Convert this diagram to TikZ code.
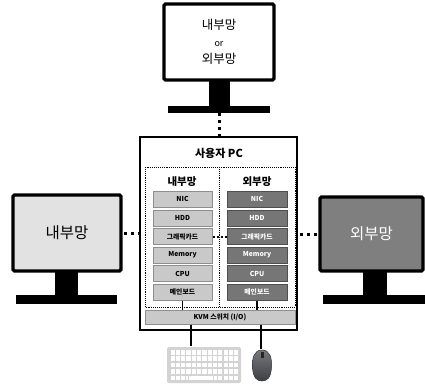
\documentclass[tikz,border=0pt]{standalone}
\usepackage{fontspec}
\setmainfont{Noto Sans CJK KR}
\setsansfont{Noto Sans CJK KR}
\usetikzlibrary{positioning}
\definecolor{lightpart}{HTML}{C9C9C9}
\definecolor{lightedge}{HTML}{8E8E8E}
\definecolor{darkpart}{HTML}{767676}
\definecolor{darkedge}{HTML}{4E4E4E}
\definecolor{lightscreen}{HTML}{E2E2E2}
\definecolor{darkscreen}{HTML}{7F7F7F}
\definecolor{kbbody}{HTML}{D3D3D3}
\definecolor{mousebody}{HTML}{3C3F44}
\tikzset{
  screenbox/.style={draw=black, line width=3.2pt, rounded corners=1.5pt, inner sep=0pt},
  standpart/.style={fill=black, draw=none},
  linkdots/.style={line width=3pt, dash pattern=on 3pt off 4pt},
  partlight/.style={draw=lightedge, fill=lightpart, line width=1pt, minimum width=59pt, minimum height=16pt, inner sep=0pt, font=\bfseries\fontsize{6.8}{7}\selectfont},
  partdark/.style={draw=darkedge, fill=darkpart, text=white, line width=1pt, minimum width=60pt, minimum height=16pt, inner sep=0pt, font=\bfseries\fontsize{6.8}{7}\selectfont},
  zone/.style={draw, densely dotted, line width=0.9pt},
  wire/.style={line width=1.2pt}
}
\begin{document}
\begin{tikzpicture}[x=1pt,y=-1pt]
\useasboundingbox (0,0) rectangle (425,386);

% top monitor
\node[screenbox, fill=white, minimum width=110pt, minimum height=76pt, align=center,
      font=\fontsize{12.5}{17}\selectfont] (topscr) at (219,42) {내부망\\{\fontsize{9}{10}\selectfont or}\\외부망};
\fill[standpart] (209,80) rectangle (230,107);
\fill[standpart] (168,106) rectangle (270,113);
\coordinate (topfoot) at (219,113);

% left monitor
\node[screenbox, fill=lightscreen, minimum width=108pt, minimum height=76pt,
      font=\fontsize{15.5}{18}\selectfont] (leftscr) at (67,233) {내부망};
\fill[standpart] (55,271) rectangle (78,296);
\fill[standpart] (16,295) rectangle (117,304);

% right monitor
\node[screenbox, fill=darkscreen, text=white, minimum width=103pt, minimum height=74pt,
      font=\fontsize{15.5}{18}\selectfont] (rightscr) at (371.5,234) {외부망};
\fill[standpart] (363,271) rectangle (387,296);
\fill[standpart] (323,295) rectangle (425,304);

% user PC enclosure
\node[draw, line width=1.2pt, minimum width=157pt, minimum height=193pt, inner sep=0pt] (pc) at (218.5,233.5) {};
\node[font=\bfseries\fontsize{11}{13}\selectfont] (pctitle) at (219,153) {사용자 PC};

% internal / external halves
\draw[zone] (145,167) rectangle (295,307);
\draw[zone] (219,167) -- (219,307);
\node[font=\bfseries\fontsize{10.5}{12}\selectfont] (inhead) at (182,182) {내부망};
\node[font=\bfseries\fontsize{10.5}{12}\selectfont] (exhead) at (257,182) {외부망};

% internal components
\node[partlight] (inNIC) at (182.5,199) {NIC};
\node[partlight] (inHDD) at (182.5,218) {HDD};
\node[partlight] (inGPU) at (182.5,236.5) {그래픽카드};
\node[partlight] (inMEM) at (182.5,255) {Memory};
\node[partlight] (inCPU) at (182.5,273.5) {CPU};
\node[partlight] (inMB)  at (182.5,292) {메인보드};

% external components
\node[partdark] (exNIC) at (257,199) {NIC};
\node[partdark] (exHDD) at (257,218) {HDD};
\node[partdark] (exGPU) at (257,236.5) {그래픽카드};
\node[partdark] (exMEM) at (257,255) {Memory};
\node[partdark] (exCPU) at (257,273.5) {CPU};
\node[partdark] (exMB)  at (257,292) {메인보드};

% KVM switch
\node[draw=lightedge, fill=lightpart, line width=1pt, minimum width=150pt, minimum height=14pt, inner sep=0pt,
      font=\bfseries\fontsize{6.8}{7}\selectfont] (kvm) at (220,317) {KVM 스위치 (I/O)};

% keyboard
\fill[kbbody, rounded corners=2pt] (167,347) rectangle (241,383);
\node[inner sep=0pt, minimum width=74pt, minimum height=36pt] (kbd) at (204,365) {};
\foreach \r in {0,...,4} {
  \foreach \c in {0,...,12} {
    \fill[white] ({170.5+\c*5.3},{350+\r*6.4}) rectangle ++(4.2,4.6);
  }
}
\fill[kbbody] (188,376) rectangle (214,382);
\fill[white] (188.5,375.6) rectangle (212.5,380.2);

% mouse
\shade[top color=mousebody!70, bottom color=mousebody, draw=mousebody!80!black, line width=0.5pt]
  (262,350) .. controls (270,350) and (272,358) .. (271.5,367)
  .. controls (271,378) and (267,381) .. (262,381)
  .. controls (257,381) and (253,378) .. (252.5,367)
  .. controls (252,358) and (254,350) .. (262,350);
\fill[black!85] (260.5,352) rectangle (263.5,358);
\node[inner sep=0pt, minimum width=19pt, minimum height=31pt] (mouse) at (262,365.5) {};

% links to the monitors
\draw[linkdots] (topfoot) -- (pc.north -| topfoot);
\draw[linkdots] (leftscr.east) ++(1.5,0) -- (pc.west |- leftscr.east);
\draw[linkdots] (rightscr.west) ++(-1.5,0) -- (pc.east |- rightscr.west);
\draw[linkdots, line width=2pt, dash pattern=on 2pt off 2pt] (inGPU.east) -- (exGPU.west);

% wiring
\draw[wire] (inMB.south) -- (kvm.north -| inMB.south);
\draw[wire] (exMB.south) -- (kvm.north -| exMB.south);
\draw[wire] (kvm.south -| 191,0) -- (191,346);
\draw[wire] (kvm.south -| 261,0) -- (261,349);
\end{tikzpicture}
\end{document}
